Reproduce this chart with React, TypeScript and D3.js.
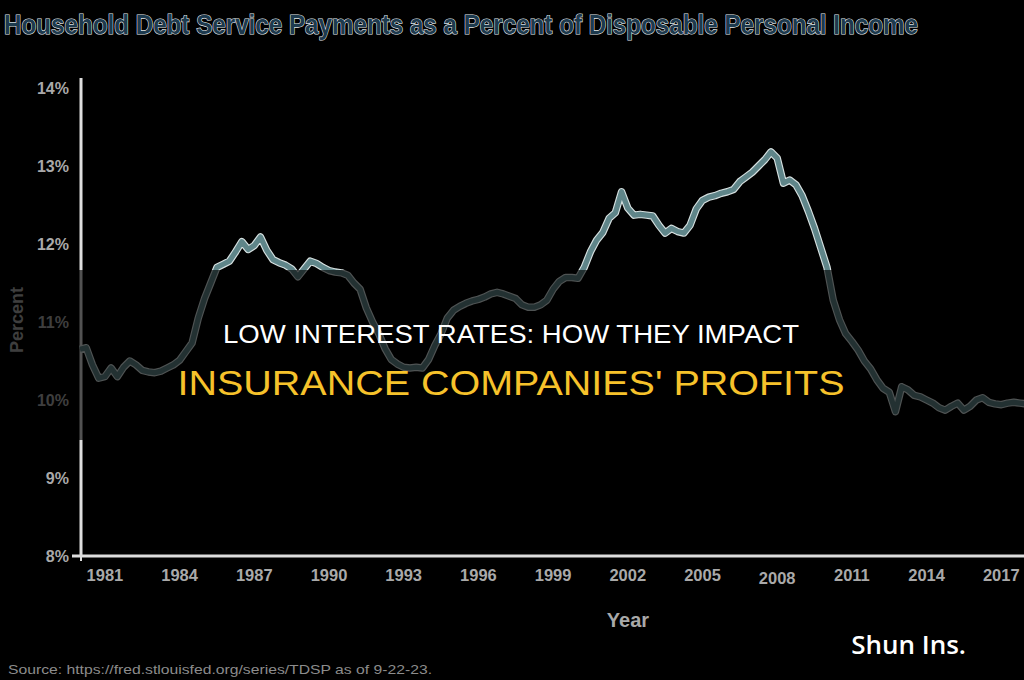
import React from "react";
import * as d3 from "d3";

const startYear = 1980;
const quarterlyDSR: number[] = [
  10.65, 10.67, 10.45, 10.28,
  10.30, 10.41, 10.30, 10.42,
  10.50, 10.45, 10.38, 10.36,
  10.35, 10.37, 10.41, 10.45,
  10.51, 10.62, 10.73, 11.05,
  11.30, 11.50, 11.70, 11.74,
  11.78, 11.90, 12.03, 11.93,
  11.98, 12.09, 11.92, 11.80,
  11.76, 11.73, 11.68, 11.58,
  11.68, 11.78, 11.75, 11.70,
  11.66, 11.64, 11.63, 11.60,
  11.50, 11.42, 11.18, 11.00,
  10.85, 10.66, 10.52, 10.46,
  10.42, 10.41, 10.42, 10.41,
  10.52, 10.70, 10.85, 11.05,
  11.15, 11.20, 11.24, 11.27,
  11.29, 11.32, 11.36, 11.38,
  11.36, 11.33, 11.30, 11.22,
  11.19, 11.19, 11.22, 11.28,
  11.42, 11.52, 11.57, 11.57,
  11.56, 11.70, 11.90, 12.05,
  12.15, 12.33, 12.40, 12.67,
  12.46, 12.37, 12.38, 12.37,
  12.36, 12.24, 12.14, 12.20,
  12.16, 12.14, 12.24, 12.45,
  12.56, 12.60, 12.62, 12.65,
  12.67, 12.70, 12.80, 12.86,
  12.92, 13.00, 13.08, 13.18,
  13.10, 12.78, 12.82, 12.76,
  12.62, 12.42, 12.20, 11.95,
  11.70, 11.28, 11.03, 10.85,
  10.75, 10.64, 10.50, 10.40,
  10.26, 10.15, 10.10, 9.85,
  10.17, 10.13, 10.06, 10.04,
  10.00, 9.96, 9.90, 9.87,
  9.92, 9.96, 9.87, 9.92,
  10.00, 10.03, 9.97, 9.95,
  9.94, 9.96, 9.97, 9.96,
  9.95,
];
const yTicks: number[] = [8, 9, 10, 11, 12, 13, 14];
const xTicks: number[] = [1981, 1984, 1987, 1990, 1993, 1996, 1999, 2002, 2005, 2008, 2011, 2014, 2017];

const chartTitle = "Household Debt Service Payments as a Percent of Disposable Personal Income";
const sourceText = "Source: https://fred.stlouisfed.org/series/TDSP as of 9-22-23.";
const overlayLine1 = "LOW INTEREST RATES: HOW THEY IMPACT";
const overlayLine2 = "INSURANCE COMPANIES' PROFITS";
const watermark = "Shun Ins.";

export default function App() {
  const W = 1024, H = 680;
  const x = d3.scaleLinear().domain([1980, 2018]).range([80, 1026.2]);
  const y = d3.scaleLinear().domain([8, 14]).range([556, 88]);
  const pts = quarterlyDSR.map((v, i) => ({ t: startYear + i / 4, v }));
  const line = d3.line<{ t: number; v: number }>().x(d => x(d.t)).y(d => y(d.v)).curve(d3.curveLinear);
  const path = line(pts) || "";
  const sans = "'Liberation Sans', Arial, sans-serif";
  const tickFill = "#a9a9a9";
  const titleScale = 0.8;
  return (
    <svg width={W} height={H} style={{ position: "absolute", left: 0, top: 0, background: "#000" }}>
      <rect x={0} y={0} width={W} height={H} fill="#000" />
      <g transform={`translate(4,34) scale(${titleScale},1)`}>
        <text x={0} y={0} fontFamily={sans} fontWeight="bold" fontSize={28} fill="#1d3a4e"
          stroke="#e8eef0" strokeWidth={1.2} paintOrder="stroke" textLength={914 / titleScale} lengthAdjust="spacingAndGlyphs">
          {chartTitle}
        </text>
      </g>
      {/* axes */}
      <line x1={81} x2={81} y1={78} y2={556} stroke="#dedede" strokeWidth={3} />
      <line x1={72} x2={W} y1={556} y2={556} stroke="#dedede" strokeWidth={3} />
      <line x1={81} x2={81} y1={556} y2={561} stroke="#dedede" strokeWidth={2} />
      {yTicks.map(t => (
        <text key={t} x={69} y={y(t)} dy="0.35em" textAnchor="end" fontFamily={sans} fontWeight="bold"
          fontSize={16} fill={tickFill}>{t}%</text>
      ))}
      {xTicks.map(t => (
        <text key={t} x={x(t)} y={t === 2008 ? 584 : 581} textAnchor="middle" fontFamily={sans} fontWeight="bold"
          fontSize={16.5} fill={tickFill}>{t}</text>
      ))}
      <text transform="translate(23,320) rotate(-90)" textAnchor="middle" fontFamily={sans} fontWeight="bold"
        fontSize={18} fill={tickFill}>Percent</text>
      <text x={628} y={627} textAnchor="middle" fontFamily={sans} fontWeight="bold" fontSize={20} fill={tickFill}>Year</text>
      <text x={8} y={674} fontFamily={sans} fontSize={13} fill="#8c8c8c" textLength={424} lengthAdjust="spacingAndGlyphs">{sourceText}</text>
      {/* data line */}
      <path d={path} fill="none" stroke="#d6e0e0" strokeWidth={7.5} strokeLinejoin="round" />
      <path d={path} fill="none" stroke="#5f8589" strokeWidth={5.2} strokeLinejoin="round" />
      {/* overlay band */}
      <rect x={0} y={270} width={W} height={170} fill="#000" opacity={0.63} />
      <text x={511} y={343} textAnchor="middle" fontFamily={sans} fontSize={25} fill="#ffffff"
        textLength={576} lengthAdjust="spacingAndGlyphs">{overlayLine1}</text>
      <text x={511} y={395} textAnchor="middle" fontFamily={sans} fontSize={35} fill="#f6c22b"
        textLength={667} lengthAdjust="spacingAndGlyphs">{overlayLine2}</text>
      <text x={966} y={654} textAnchor="end" fontFamily="'Open Sans', sans-serif" fontWeight={600} fontSize={26}
        fill="#ffffff">{watermark}</text>
    </svg>
  );
}
